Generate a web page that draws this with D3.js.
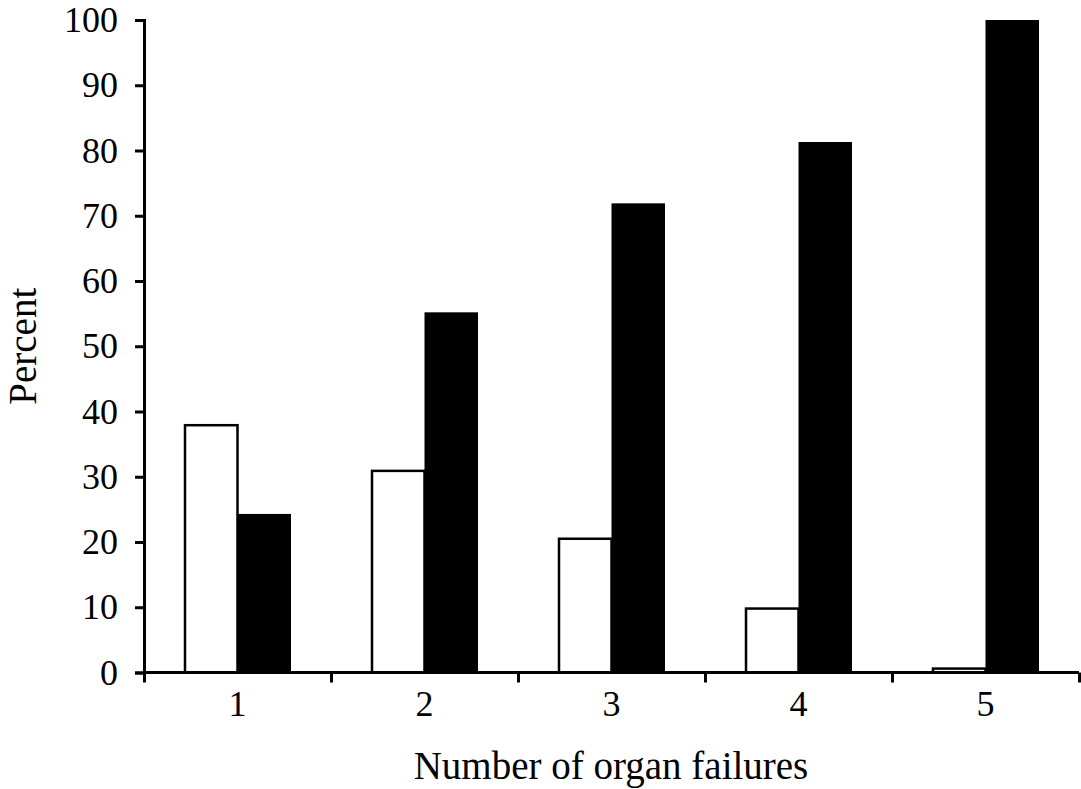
<!DOCTYPE html>
<html><head><meta charset="utf-8">
<script src="https://cdn.jsdelivr.net/npm/d3@7"></script>
<style>body{margin:0;background:#fff}svg{display:block}</style>
</head><body>
<svg id="c" width="1081" height="789"></svg>
<script>
const categories = ["1","2","3","4","5"];
const survivors = [37.9, 30.9, 20.5, 9.8, 0.6];
const nonSurvivors = [24.3, 55.2, 71.9, 81.3, 100];
const yTicks = [0,10,20,30,40,50,60,70,80,90,100];

const svg = d3.select("#c");
const L = 144, R = 1079, T = 20, B = 672.5;
const font = "Liberation Serif, Times New Roman, serif";

const x = d3.scaleBand().domain(categories).range([L, R]).padding(0);
const y = d3.scaleLinear().domain([0,100]).range([B, T]);
const bw = x.bandwidth();
const inner = d3.scaleBand().domain(["s","n"]).range([0, bw]).paddingInner(0).paddingOuter((bw/53.5 - 2)/2);

const data = categories.map((c,i)=>({c, s: survivors[i], n: nonSurvivors[i]}));

const g = svg.append("g");
g.selectAll("rect.s").data(data).join("rect").attr("class","s")
  .attr("x", d=>x(d.c)+inner("s")+1)
  .attr("y", d=>y(d.s))
  .attr("width", inner.bandwidth()-1)
  .attr("height", d=>B - y(d.s))
  .attr("fill","#fff").attr("stroke","#000").attr("stroke-width",2.5);
g.selectAll("rect.n").data(data).join("rect").attr("class","n")
  .attr("x", d=>x(d.c)+inner("n"))
  .attr("y", d=>y(d.n))
  .attr("width", inner.bandwidth())
  .attr("height", d=>B - y(d.n))
  .attr("fill","#000");

const ya = svg.append("g").attr("transform",`translate(${L},0)`)
  .call(d3.axisLeft(y).tickValues(yTicks).tickSize(9).tickPadding(17));
ya.select(".domain").attr("stroke-width",3);
ya.selectAll(".tick line").attr("stroke-width",3);
ya.selectAll("text").attr("font-family",font).attr("font-size",36).attr("fill","#000");

const xb = d3.scaleLinear().domain([0,5]).range([L,R]);
const xa = svg.append("g").attr("transform",`translate(0,${B})`)
  .call(d3.axisBottom(xb).ticks(5).tickSize(10).tickFormat(""));
xa.select(".domain").attr("stroke-width",3).attr("d",`M${L},0H${R}`);
xa.selectAll(".tick line").attr("stroke-width",3);
const xl = svg.append("g").attr("transform",`translate(0,${B})`)
  .call(d3.axisBottom(x).tickSize(0).tickPadding(18));
xl.select(".domain").remove();
xl.selectAll("text").attr("font-family",font).attr("font-size",36).attr("fill","#000");

svg.append("text").attr("x",611).attr("y",779)
  .attr("text-anchor","middle").attr("font-family",font).attr("font-size",39)
  .text("Number of organ failures");
svg.append("text").attr("transform",`translate(36,${(T+B)/2}) rotate(-90)`)
  .attr("text-anchor","middle").attr("font-family",font).attr("font-size",39)
  .text("Percent");
</script>
</body></html>
